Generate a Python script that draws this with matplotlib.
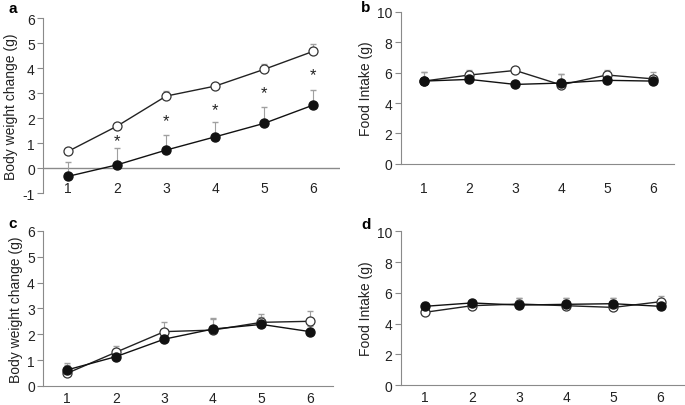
import numpy as np
import matplotlib.pyplot as plt

plt.rcParams['font.family'] = ['Liberation Sans', 'DejaVu Sans']
plt.rcParams['axes.unicode_minus'] = False

weeks = [1, 2, 3, 4, 5, 6]

# panel a - body weight change
a_open = [0.67, 1.68, 2.88, 3.28, 3.95, 4.67]
a_open_err = [0.0, 0.1, 0.19, 0.1, 0.23, 0.3]
a_fill = [-0.33, 0.13, 0.72, 1.25, 1.79, 2.52]
a_fill_err = [0.56, 0.67, 0.62, 0.61, 0.66, 0.62]
a_star = [1.1, 1.9, 2.35, 3.0, 3.72]

# panel b - food intake
b_open = [5.45, 5.85, 6.15, 5.2, 5.85, 5.6]
b_open_err = [0.6, 0.35, 0.0, 0.7, 0.35, 0.45]
b_fill = [5.45, 5.56, 5.23, 5.32, 5.5, 5.45]
b_fill_err = [0.6, 0.3, 0.0, 0.6, 0.3, 0.3]

# panel c - body weight change
c_open = [0.49, 1.3, 2.1, 2.16, 2.46, 2.5]
c_open_err = [0.3, 0.25, 0.36, 0.46, 0.31, 0.39]
c_fill = [0.62, 1.13, 1.81, 2.2, 2.38, 2.1]
c_fill_err = [0.25, 0.2, 0.3, 0.4, 0.3, 0.2]

# panel d - food intake
d_open = [4.73, 5.16, 5.27, 5.16, 5.05, 5.42]
d_open_err = [0.3, 0.2, 0.37, 0.48, 0.59, 0.39]
d_fill = [5.12, 5.34, 5.2, 5.25, 5.29, 5.12]
d_fill_err = [0.25, 0.15, 0.44, 0.39, 0.35, 0.2]

fig = plt.figure(figsize=(6.85, 4.06), dpi=100)
GRAY = '#8a8a8a'
TXT = '#222222'


def draw(ax, yo, eo, yf, ef):
    z = np.zeros(len(weeks))
    ax.errorbar(weeks, yo, yerr=[z, eo], fmt='none', ecolor='#a0a0a0', elinewidth=0.8, capsize=2, zorder=1)
    ax.errorbar(weeks, yf, yerr=[z, ef], fmt='none', ecolor='#a0a0a0', elinewidth=0.8, capsize=2, zorder=1)
    ax.plot(weeks, yo, color='#222222', lw=1.0, marker='o', ms=6.5, mfc='white', mec='#333333', mew=0.9, zorder=3)
    ax.plot(weeks, yf, color='#111111', lw=1.0, marker='o', ms=6.5, mfc='#111111', mec='#111111', zorder=4)


def style(ax, xlim, ylim, yticks, ylabel, xpad):
    ax.set_xlim(*xlim)
    ax.set_ylim(*ylim)
    ax.set_yticks(yticks)
    ax.set_xticks(weeks)
    for s in ['top', 'right']:
        ax.spines[s].set_visible(False)
    ax.spines['left'].set_color(GRAY)
    ax.spines['bottom'].set_color(GRAY)
    ax.tick_params(axis='y', colors=GRAY, labelcolor=TXT, labelsize=10, length=4, width=0.8, pad=2)
    ax.tick_params(axis='x', length=0, labelsize=10, labelcolor=TXT, pad=xpad)
    ax.set_ylabel(ylabel, fontsize=10, color=TXT, labelpad=3)


# a
ax = fig.add_axes([0.063, 0.522, 0.4336, 0.431])
draw(ax, a_open, a_open_err, a_fill, a_fill_err)
style(ax, (0.49, 6.55), (-1, 6), range(-1, 7), 'Body weight change (g)', -9)
ax.spines['bottom'].set_visible(False)
ax.axhline(0, color=GRAY, lw=1.0, zorder=0)
for x, y in zip(weeks[1:], a_star):
    ax.text(x, y, '*', ha='center', va='center', fontsize=12, color=TXT)
fig.text(0.012, 0.978, 'a', fontsize=11, fontweight='bold', va='center')

# b
ax = fig.add_axes([0.585, 0.594, 0.3985, 0.374])
draw(ax, b_open, b_open_err, b_fill, b_fill_err)
style(ax, (0.498, 6.46), (0, 10), range(0, 11, 2), 'Food Intake (g)', 12)
fig.text(0.527, 0.98, 'b', fontsize=11, fontweight='bold', va='center')

# c
ax = fig.add_axes([0.063, 0.047, 0.423, 0.382])
draw(ax, c_open, c_open_err, c_fill, c_fill_err)
style(ax, (0.506, 6.47), (0, 6), range(0, 7), 'Body weight change (g)', 3.5)
fig.text(0.012, 0.448, 'c', fontsize=11, fontweight='bold', va='center')

# d
ax = fig.add_axes([0.585, 0.049, 0.413, 0.379])
draw(ax, d_open, d_open_err, d_fill, d_fill_err)
style(ax, (0.49, 6.49), (0, 10), range(0, 11, 2), 'Food Intake (g)', 3.5)
fig.text(0.527, 0.446, 'd', fontsize=11, fontweight='bold', va='center')

fig.savefig('out.png', dpi=100)
